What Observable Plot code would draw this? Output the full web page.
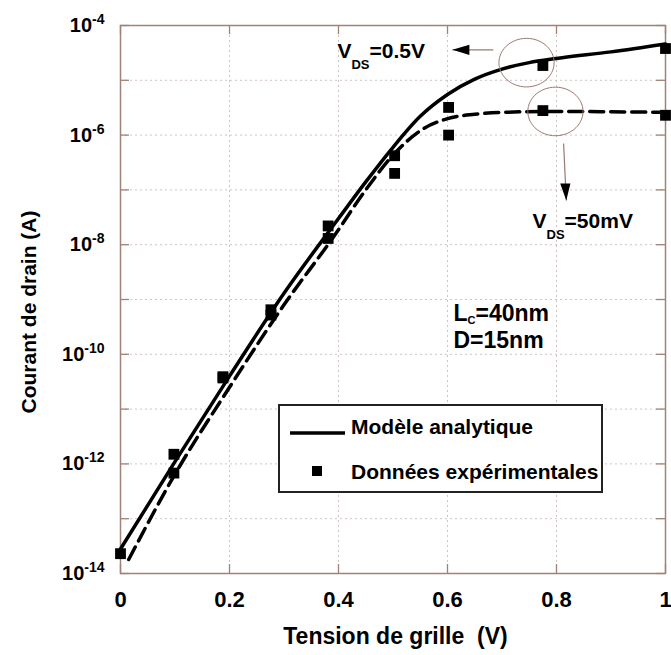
<!DOCTYPE html>
<html><head><meta charset="utf-8">
<script src="https://cdn.jsdelivr.net/npm/d3@7"></script>
<script src="https://cdn.jsdelivr.net/npm/@observablehq/plot@0.6"></script>
<style>body{margin:0;background:#fff;} #chart svg{display:block}</style>
</head><body><div id="chart"></div>
<script>
// ---- data ----
const xTicks = [0, 0.2, 0.4, 0.6, 0.8, 1];
const yDecades = [1e-14, 1e-13, 1e-12, 1e-11, 1e-10, 1e-9, 1e-8, 1e-7, 1e-6, 1e-5, 1e-4];
const yLabelTicks = [1e-14, 1e-12, 1e-10, 1e-8, 1e-6, 1e-4];

// Analytical model, VDS = 0.5 V (solid)
const modelVg05 = [0, 0.1, 0.2, 0.3, 0.4, 0.45, 0.5, 0.55, 0.6, 0.65, 0.7, 0.75, 0.8, 0.9, 1.0];
const modelId05 = [2.8e-14, 1.1e-12, 4e-11, 1.3e-9, 3e-8, 1.4e-7, 6e-7, 2.2e-6, 5.5e-6, 1.05e-5, 1.6e-5, 2.1e-5, 2.5e-5, 3.3e-5, 4.6e-5];
// Analytical model, VDS = 50 mV (dashed)
const modelVg50 = [0.015, 0.1, 0.2, 0.3, 0.39, 0.45, 0.5, 0.55, 0.6, 0.65, 0.7, 0.8, 1.0];
const modelId50 = [1.8e-14, 6.5e-13, 2.5e-11, 8e-10, 1.35e-8, 1e-7, 4.3e-7, 1.2e-6, 2e-6, 2.4e-6, 2.6e-6, 2.7e-6, 2.6e-6];

// Experimental data
const expVg05 = [0, 0.098, 0.188, 0.276, 0.381, 0.503, 0.602, 0.775, 1.0];
const expId05 = [2.3e-14, 1.5e-12, 3.9e-11, 6.5e-10, 2.2e-8, 4.2e-7, 3.2e-6, 1.86e-5, 3.8e-5];
const expVg50 = [0.098, 0.188, 0.276, 0.381, 0.503, 0.602, 0.775, 1.0];
const expId50 = [6.8e-13, 3.7e-11, 5.2e-10, 1.3e-8, 2e-7, 1e-6, 2.8e-6, 2.3e-6];

// Annotations (data coordinates)
const annText = ["V_{DS}=0.5V", "V_{DS}=50mV", "L_{C}=40nm", "D=15nm"];
const annX = [0.398, 0.756, 0.611, 0.611];
const annY = [2.6e-5, 2.06e-8, 3.98e-10, 1.28e-10];

const ellipseX = [0.745, 0.798];
const ellipseY = [2.1e-5, 2.7e-6];

const arrowX1 = [0.684, 0.813];
const arrowY1 = [3.6e-5, 7e-7];
const arrowX2 = [0.609, 0.818];
const arrowY2 = [3.6e-5, 6.4e-8];

const legendLabels = ["Modèle analytique", "Données expérimentales"];
const xLabel = "Tension de grille\u00a0\u00a0(V)";
const yLabel = "Courant de drain (A)";

// ---- styling helpers ----
const FONT = "Arial, 'Liberation Sans', sans-serif";
const frameColor = "#a08276";
const gridColor = "#cfc4c2";
const annColor = "#9a7a70";
const W = 671, H = 655, ML = 120, MR = 6, MT = 25, MB = 82;
const PW = W - ML - MR, PH = H - MT - MB;

const ellipseSymbol = {draw(ctx, size) {
  const r = Math.sqrt(size / Math.PI), rx = r, ry = r * 0.88, n = 60;
  for (let i = 0; i <= n; i++) {
    const a = 2 * Math.PI * i / n;
    const px = rx * Math.cos(a), py = ry * Math.sin(a);
    if (i) ctx.lineTo(px, py); else ctx.moveTo(px, py);
  }
  ctx.closePath();
}};
const headLeft = {draw(ctx, size) {
  const L = Math.sqrt(size / Math.PI), w = L * 0.3;
  ctx.moveTo(0, 0); ctx.lineTo(L, -w); ctx.lineTo(L, w); ctx.closePath();
}};
const headDown = {draw(ctx, size) {
  const L = Math.sqrt(size / Math.PI), w = L * 0.3;
  ctx.moveTo(0, 0); ctx.lineTo(w - 1, -L); ctx.lineTo(-w - 1, -L); ctx.closePath();
}};

const idx = a => d3.range(a.length);

const chart = Plot.plot({
  width: W, height: H,
  marginLeft: ML, marginRight: MR, marginTop: MT, marginBottom: MB,
  style: {fontFamily: FONT, fontWeight: "bold", color: "black", background: "white", overflow: "visible"},
  x: {domain: [0, 1]},
  y: {type: "log", domain: [1e-14, 1e-4]},
  marks: [
    Plot.gridX(xTicks, {stroke: gridColor, strokeOpacity: 1, strokeDasharray: "2,3"}),
    Plot.gridY(yDecades, {stroke: gridColor, strokeOpacity: 1, strokeDasharray: "2,3"}),
    Plot.tickY(yDecades, {y: d => d, stroke: frameColor, strokeWidth: 1.3, insetRight: PW - 9}),
    Plot.tickY(yDecades, {y: d => d, stroke: frameColor, strokeWidth: 1.3, insetLeft: PW - 9}),
    Plot.tickX(xTicks, {x: d => d, stroke: frameColor, strokeWidth: 1.3, insetTop: PH - 9}),
    Plot.tickX(xTicks, {x: d => d, stroke: frameColor, strokeWidth: 1.3, insetBottom: PH - 9}),
    Plot.frame({stroke: frameColor, strokeWidth: 1.5}),
    Plot.axisX(xTicks, {tickSize: 0, tickPadding: 18, fontSize: 22, fontWeight: "bold", label: null,
      tickFormat: d => String(d)}),
    Plot.axisY(yLabelTicks, {tickSize: 0, tickPadding: 16, fontSize: 20, fontWeight: "bold", label: null,
      tickFormat: d => "10^" + Math.round(Math.log10(d))}),
    // model curves
    Plot.line(idx(modelVg05), {x: i => modelVg05[i], y: i => modelId05[i], stroke: "black", strokeWidth: 3.5, curve: "monotone-x"}),
    Plot.line(idx(modelVg50), {x: i => modelVg50[i], y: i => modelId50[i], stroke: "black", strokeWidth: 3.5, strokeDasharray: "14,7", curve: "monotone-x"}),
    // experimental squares
    Plot.dot(idx(expVg05), {x: i => expVg05[i], y: i => expId05[i], symbol: "square", r: 6.1, fill: "black"}),
    Plot.dot(idx(expVg50), {x: i => expVg50[i], y: i => expId50[i], symbol: "square", r: 6.1, fill: "black"}),
    // annotations
    Plot.dot(idx(ellipseX), {x: i => ellipseX[i], y: i => ellipseY[i], r: 27.6, symbol: ellipseSymbol, fill: "none", stroke: annColor, strokeWidth: 1}),
    Plot.link(idx(arrowX1), {x1: i => arrowX1[i], y1: i => arrowY1[i], x2: i => arrowX2[i], y2: i => arrowY2[i], stroke: annColor, strokeWidth: 1.2}),
    Plot.dot([0], {x: i => arrowX2[i], y: i => arrowY2[i], r: 17, symbol: headLeft, fill: "black", stroke: "none"}),
    Plot.dot([1], {x: i => arrowX2[i], y: i => arrowY2[i], r: 17, symbol: headDown, fill: "black", stroke: "none"}),
    Plot.text([0, 1], {x: i => annX[i], y: i => annY[i], text: i => annText[i], textAnchor: "start", lineAnchor: "bottom", fontSize: 21, fontWeight: "bold", fill: "black"}),
    Plot.text([2, 3], {x: i => annX[i], y: i => annY[i], text: i => annText[i], textAnchor: "start", lineAnchor: "bottom", fontSize: 23, fontWeight: "bold", fill: "black"}),
    // axis titles
    Plot.text([xLabel], {text: d => d, frameAnchor: "bottom", dy: 70, dx: 2.5, lineAnchor: "bottom", textAnchor: "middle", fontSize: 23, fontWeight: "bold"}),
    Plot.text([yLabel], {text: d => d, frameAnchor: "left", rotate: -90, dx: -85, dy: 12.5, lineAnchor: "bottom", textAnchor: "middle", fontSize: 21, fontWeight: "bold"})
  ]
});

const svg = d3.select(chart);
const xTickStrings = xTicks.map(String);
// superscripts / subscripts / tick label sizes
svg.selectAll("text").each(function() {
  const t = this.textContent;
  const sel = d3.select(this);
  if (t.startsWith("10^")) {
    sel.text(null).style("font-size", "20px").style("font-weight", "bold");
    sel.append("tspan").style("font-size", "20px").text("10");
    sel.append("tspan").attr("dy", -8).style("font-size", "14px").text(t.slice(3));
  } else if (xTickStrings.includes(t)) {
    sel.style("font-size", "22px").style("font-weight", "bold");
  } else if (t.includes("_{")) {
    const parts = t.split(/_\{|\}/);
    const isV = parts[0] === "V";
    const sub = isV ? 11 : 3, subSize = isV ? 13 : 11;
    sel.text(null);
    sel.append("tspan").text(parts[0]);
    sel.append("tspan").attr("dy", sub).style("font-size", subSize + "px").text(parts[1]);
    sel.append("tspan").attr("dy", -sub).text(parts[2]);
  }
});

// legend box
const lg = svg.append("g").attr("transform", "translate(279,405)")
  .attr("font-family", FONT).attr("font-weight", "bold").attr("font-size", 21).attr("text-anchor", "start");
lg.append("rect").attr("width", 323).attr("height", 87).attr("fill", "white").attr("stroke", "#222").attr("stroke-width", 2);
lg.append("line").attr("x1", 11).attr("x2", 66).attr("y1", 28).attr("y2", 28).attr("stroke", "black").attr("stroke-width", 3.5);
lg.append("text").attr("x", 72).attr("y", 29).attr("text-anchor", "start").text(legendLabels[0]);
lg.append("rect").attr("x", 33).attr("y", 61).attr("width", 10).attr("height", 10).attr("fill", "black");
lg.append("text").attr("x", 72).attr("y", 74).attr("text-anchor", "start").text(legendLabels[1]);

document.getElementById("chart").append(chart);
</script>
</body></html>
